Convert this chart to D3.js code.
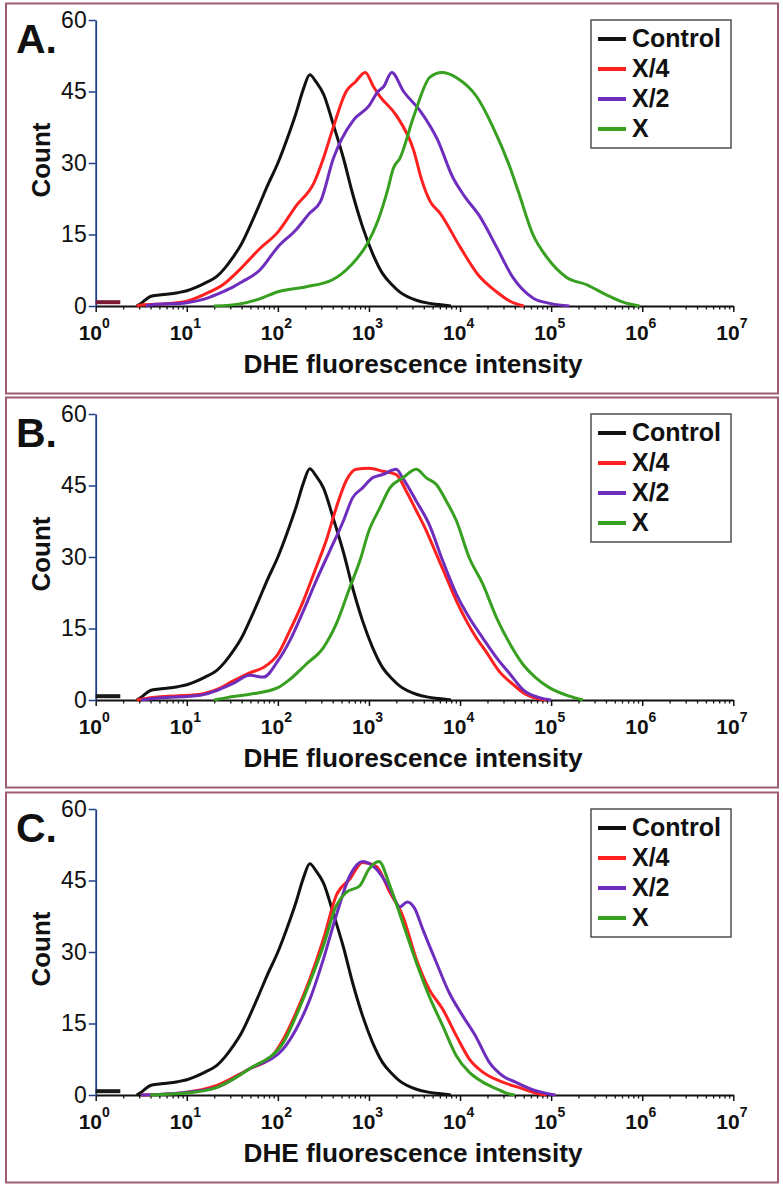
<!DOCTYPE html>
<html><head><meta charset="utf-8">
<script src="https://cdn.jsdelivr.net/npm/d3@7"></script>
<style>body{margin:0;background:#fff}svg{display:block}text{font-family:"Liberation Sans",Arial,sans-serif}</style>
</head><body><svg id="c" width="783" height="1190"></svg>
<script>
// Data: [log10(DHE fluorescence intensity), count]
const seriesNames = ["Control","X/4","X/2","X"];
const seriesColors = ["#111111","#ff2020","#6f2dbd","#38a020"];
const panelLabels = ["A.","B.","C."];
const yTicks = [0,15,30,45,60];
const xDecades = [0,1,2,3,4,5,6,7];
const lowBin = [[0,0.8],[0.27,0.8]];
const lowBinColors = ["#7a1a35","#1a1a1a","#1a1a1a"];

const control = [[0.45,0],[0.5,0.6],[0.6,2],[0.7,2.3],[0.8,2.5],[0.9,2.8],[1.0,3.2],[1.1,3.9],[1.2,4.8],[1.33,6.2],[1.42,8],[1.51,10.3],[1.6,13],[1.69,16.6],[1.78,20.5],[1.88,25],[2.0,30],[2.1,35],[2.2,40.5],[2.28,45.5],[2.35,48.5],[2.42,47],[2.5,44.5],[2.61,38],[2.72,31],[2.82,23.6],[2.93,16.6],[3.04,11],[3.15,6.8],[3.25,4.5],[3.34,2.9],[3.52,1.2],[3.65,0.6],[3.77,0.3],[3.9,0]];

const aX4 = [[0.45,0],[0.5,0.2],[0.8,0.5],[1.0,1],[1.2,2.5],[1.4,4.5],[1.6,8],[1.8,12],[2.0,15.5],[2.2,21],[2.4,26],[2.5,31],[2.6,37],[2.75,45],[2.85,47],[2.96,49],[3.05,46],[3.12,44],[3.3,40],[3.49,32.7],[3.58,26.4],[3.67,22],[3.78,19.5],[4.0,12.4],[4.2,6.5],[4.4,3],[4.55,1],[4.7,0]];
const aX2 = [[0.55,0],[0.6,0.2],[1.0,0.7],[1.2,1.5],[1.4,3],[1.51,4],[1.6,5],[1.8,7.5],[2.0,12.4],[2.2,16],[2.35,19.5],[2.47,22],[2.61,31],[2.7,35],[2.83,39],[3.0,42],[3.1,45],[3.16,46],[3.25,49],[3.38,45],[3.56,41],[3.75,35],[3.92,27],[4.05,23],[4.22,18.7],[4.4,12.4],[4.58,6],[4.8,1.7],[5.0,0.5],[5.2,0]];
const aX = [[1.3,0],[1.6,0.5],[1.8,1.5],[2.0,3],[2.3,4],[2.6,5.5],[2.8,8.5],[2.98,13],[3.1,18],[3.2,24],[3.27,29],[3.34,31],[3.49,39.7],[3.67,48],[3.8,49],[3.97,47.8],[4.18,44],[4.36,37.6],[4.55,29],[4.64,24],[4.8,15],[4.95,10.3],[5.17,6],[5.4,4.4],[5.61,2.3],[5.79,0.8],[5.97,0]];

const bX4 = [[0.45,0],[0.6,0.5],[1.15,1.2],[1.33,2.2],[1.51,4],[1.69,5.7],[1.84,6.8],[2.0,9.6],[2.13,14.5],[2.28,20.8],[2.42,27.8],[2.53,33.4],[2.64,40.3],[2.75,46],[2.86,48.4],[3.0,48.6],[3.15,48],[3.3,47.3],[3.41,43.8],[3.52,39.7],[3.63,35.5],[3.74,30.6],[3.85,25.7],[3.96,20.8],[4.07,16.6],[4.18,13],[4.28,10.3],[4.43,6],[4.58,3.3],[4.72,1.2],[4.9,0.1],[4.95,0]];
const bX2 = [[0.5,0],[0.7,0.4],[1.15,1],[1.33,2],[1.51,3.5],[1.69,5.2],[1.84,4.8],[2.0,8.2],[2.13,12.4],[2.28,18.7],[2.42,25],[2.57,31.3],[2.72,37.6],[2.82,42.4],[2.93,44.5],[3.04,46.6],[3.15,47.3],[3.3,48.4],[3.37,46.6],[3.52,41.7],[3.66,36.9],[3.81,29.2],[3.96,22.2],[4.1,17.3],[4.25,13],[4.4,8.9],[4.55,5.4],[4.69,2.2],[4.87,0.5],[5.0,0]];
const bX = [[1.3,0],[1.44,0.5],[1.69,1.2],[2.0,2.6],[2.13,4.3],[2.31,7.5],[2.5,11],[2.64,15.9],[2.79,23.6],[2.9,29.2],[3.0,35.5],[3.12,40.3],[3.23,44.5],[3.37,46.6],[3.52,48.4],[3.63,46.6],[3.74,45.2],[3.85,41.7],[3.96,37.6],[4.1,29.9],[4.25,24.3],[4.4,17.3],[4.55,11.7],[4.69,7.5],[4.83,4.7],[4.98,2.6],[5.2,0.8],[5.35,0]];

const cX4 = [[0.5,0],[0.96,0.5],[1.33,2],[1.69,5.5],[1.91,7.6],[2.06,11.7],[2.2,17.3],[2.35,24.3],[2.5,32.7],[2.64,41.8],[2.79,45.3],[2.93,48.8],[3.08,48],[3.23,42.5],[3.37,37.6],[3.52,28.5],[3.66,22.2],[3.81,18],[3.96,12.4],[4.1,7.6],[4.25,4.8],[4.47,2.7],[4.69,1.3],[4.87,0.2],[4.95,0]];
const cX2 = [[0.5,0],[0.96,0.5],[1.33,1.6],[1.69,5.5],[2.06,9.7],[2.2,13.8],[2.35,20],[2.5,28.5],[2.64,37.6],[2.79,46],[2.93,49],[3.08,47.4],[3.23,43.2],[3.34,39.5],[3.42,40.5],[3.5,39.2],[3.59,34.8],[3.74,27.8],[3.88,21.5],[4.03,16.6],[4.17,12.4],[4.32,6.9],[4.47,4],[4.61,2.7],[4.83,0.9],[4.98,0.2],[5.05,0]];
const cX = [[0.6,0],[1.0,0.4],[1.33,1.6],[1.69,5.5],[2.06,11],[2.2,16.6],[2.35,23.6],[2.5,31.3],[2.64,39.7],[2.75,42.5],[2.9,43.9],[3.0,47.4],[3.11,49],[3.23,43.9],[3.37,36.2],[3.52,27.8],[3.66,20.8],[3.81,14.5],[3.96,8.2],[4.1,4.8],[4.25,2.7],[4.4,1.3],[4.54,0.2],[4.6,0]];

const panelSeries = [[control,aX4,aX2,aX],[control,bX4,bX2,bX],[control,cX4,cX2,cX]];
const panelTops = [0,394,789];

const svg = d3.select("#c");
const x = d3.scaleLog().domain([1,1e7]).range([95.7,733.3]);
const minorTicks = [];
for (let d=0; d<7; d++) for (let m=2; m<10; m++) minorTicks.push(m*Math.pow(10,d));

panelSeries.forEach((series, pi) => {
  const T = panelTops[pi];
  const g = svg.append("g");
  const y = d3.scaleLinear().domain([0,60]).range([T+306, T+20]);

  g.append("rect").attr("x",6).attr("y",T+3.5).attr("width",772).attr("height",390)
    .attr("fill","none").attr("stroke","#a05a72").attr("stroke-width",2);

  const xMinor = d3.axisBottom(x).tickValues(minorTicks).tickSize(3.5).tickFormat("");
  const gm = g.append("g").attr("transform",`translate(0,${T+306})`).call(xMinor);
  gm.select(".domain").remove();
  gm.selectAll("line").attr("stroke","#111").attr("stroke-width",1.3);
  const xMajor = d3.axisBottom(x).tickValues(xDecades.map(d=>Math.pow(10,d))).tickSize(6).tickSizeOuter(0).tickFormat("");
  const gx = g.append("g").attr("transform",`translate(0,${T+306})`).call(xMajor);
  gx.select(".domain").attr("stroke","#111").attr("stroke-width",2);
  gx.selectAll("line").attr("stroke","#111").attr("stroke-width",1.5);
  xDecades.forEach(d => {
    const t = g.append("text").attr("x", x(Math.pow(10,d)) - 17).attr("y", T+340)
      .attr("font-size",21).attr("font-weight","bold").attr("fill","#111");
    t.append("tspan").text("10");
    t.append("tspan").attr("dy",-12).attr("font-size",14).text(String(d));
  });

  const yAxis = d3.axisLeft(y).tickValues(yTicks).tickSize(7).tickSizeOuter(0).tickPadding(2);
  const gy = g.append("g").attr("transform","translate(95.7,0)").call(yAxis);
  gy.select(".domain").attr("stroke","#1d3f86").attr("stroke-width",1.8);
  gy.selectAll("line").attr("stroke","#1d3f86").attr("stroke-width",1.5);
  gy.selectAll("text").attr("font-size",23).attr("fill","#111").attr("font-family","Liberation Sans, Arial");

  g.append("text").attr("x",413).attr("y",T+373).attr("text-anchor","middle")
    .attr("font-size",25).attr("font-weight","bold").attr("fill","#111")
    .attr("textLength",339).attr("lengthAdjust","spacingAndGlyphs")
    .text("DHE fluorescence intensity");
  g.append("text").attr("transform",`translate(50,${T+160}) rotate(-90)`).attr("text-anchor","middle")
    .attr("font-size",25).attr("font-weight","bold").attr("fill","#111")
    .attr("textLength",75).attr("lengthAdjust","spacingAndGlyphs").text("Count");

  g.append("text").attr("x",16).attr("y",T+53).attr("font-size",41).attr("font-weight","bold")
    .attr("fill","#111").text(panelLabels[pi]);

  const line = d3.line().x(d=>x(Math.pow(10,d[0]))).y(d=>y(d[1])).curve(d3.curveMonotoneX);
  g.append("path").datum(lowBin).attr("d", d3.line().x(d=>x(Math.pow(10,d[0]))).y(d=>y(d[1])))
    .attr("fill","none").attr("stroke",lowBinColors[pi]).attr("stroke-width",4);
  series.forEach((s,i) => {
    g.append("path").datum(s).attr("d",line).attr("fill","none")
      .attr("stroke",seriesColors[i]).attr("stroke-width",3).attr("stroke-linejoin","round");
  });

  const lg = g.append("g");
  lg.append("rect").attr("x",591).attr("y",T+20).attr("width",140).attr("height",128)
    .attr("fill","#fff").attr("stroke","#444").attr("stroke-width",1.4);
  seriesNames.forEach((n,i) => {
    const by = T+47+i*30;
    lg.append("line").attr("x1",598).attr("x2",626).attr("y1",by-8).attr("y2",by-8)
      .attr("stroke",seriesColors[i]).attr("stroke-width",4);
    lg.append("text").attr("x",632).attr("y",by).attr("font-size",25).attr("font-weight","bold")
      .attr("fill","#111").text(n);
  });
});
</script></body></html>
